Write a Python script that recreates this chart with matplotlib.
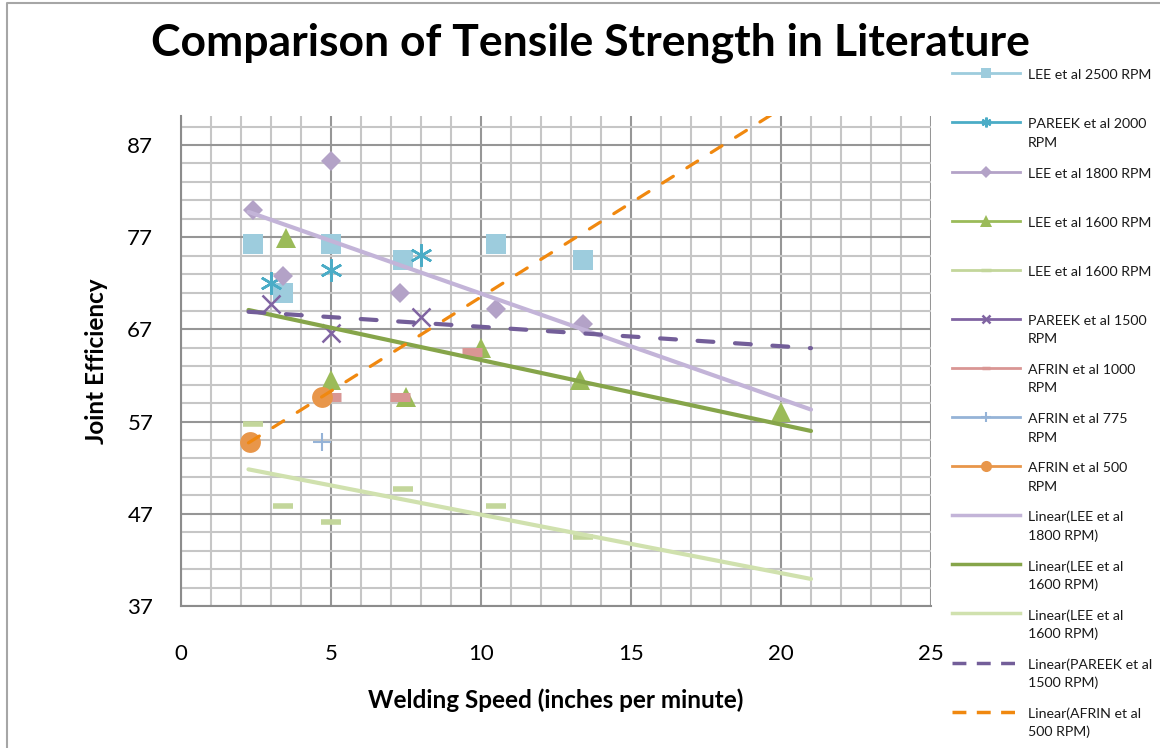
import matplotlib.pyplot as plt
import numpy as np

plt.rcParams['font.family'] = ['Lato', 'DejaVu Sans']

# welding speed (ipm) and joint efficiency
lee2500_x = [2.4, 3.4, 5.0, 7.4, 10.5, 13.4]
lee2500_y = [76.3, 71.0, 76.3, 74.5, 76.3, 74.5]
pareek2000_x = [3.0, 5.0, 8.0]
pareek2000_y = [72.0, 73.4, 75.1]
lee1800_x = [2.4, 3.4, 5.0, 7.3, 10.5, 13.4]
lee1800_y = [80.0, 72.8, 85.3, 71.0, 69.2, 67.6]
lee1600a_x = [3.5, 5.0, 7.5, 10.0, 13.3, 20.0]
lee1600a_y = [76.9, 61.5, 59.7, 65.0, 61.5, 58.0]
lee1600b_x = [2.4, 3.4, 5.0, 7.4, 10.5, 13.4]
lee1600b_y = [56.7, 47.9, 46.1, 49.7, 47.9, 44.5]
pareek1500_x = [3.0, 5.0, 8.0]
pareek1500_y = [69.8, 66.6, 68.4]
afrin1000_x = [5.0, 7.3, 9.7]
afrin1000_y = [59.7, 59.7, 64.6]
afrin775_x = [4.7]
afrin775_y = [54.8]
afrin500_x = [2.3, 4.7]
afrin500_y = [54.8, 59.7]

series_labels = ["LEE et al 2500 RPM", "PAREEK et al 2000\nRPM", "LEE et al 1800 RPM",
                 "LEE et al 1600 RPM", "LEE et al 1600 RPM", "PAREEK et al 1500\nRPM",
                 "AFRIN et al 1000\nRPM", "AFRIN et al 775\nRPM", "AFRIN et al 500\nRPM"]
trend_labels = ["Linear(LEE et al\n1800 RPM)", "Linear(LEE et al\n1600 RPM)",
                "Linear(LEE et al\n1600 RPM)", "Linear(PAREEK et al\n1500 RPM)",
                "Linear(AFRIN et al\n500 RPM)"]

fig = plt.figure(figsize=(11.6, 7.48), dpi=100)
ax = fig.add_axes([181 / 1160, 1 - 606 / 748, 750 / 1160, 490 / 748])
ax.set_xlim(0, 25)
ax.set_ylim(37, 90.15)
ax.set_xticks(np.arange(0, 26, 5))
ax.set_xticks(np.arange(0, 26, 1), minor=True)
ax.set_yticks(np.arange(37, 90, 10))
ax.set_yticks(np.arange(37, 90, 2), minor=True)
ax.grid(which='minor', color='#C6C6C6', lw=1.5)
ax.grid(which='major', color='#969696', lw=1.5)
ax.set_axisbelow(True)
ax.tick_params(which='both', length=0, labelsize=16)
ax.tick_params(axis='y', pad=20)
ax.tick_params(axis='x', pad=27)
for s in ['top', 'right']:
    ax.spines[s].set_visible(False)
for s in ['left', 'bottom']:
    ax.spines[s].set_color('#8C8C8C')
    ax.spines[s].set_linewidth(1.5)

# series: (x, y, marker, size, face colour, edge width)
styles = [
    (lee2500_x, lee2500_y, 's', 14.5, '#9DCCDD', 0),
    (pareek2000_x, pareek2000_y, (6, 2, 0), 16, '#4BACC6', 1.8),
    (lee1800_x, lee1800_y, 'D', 10, '#B3A2C7', 0),
    (lee1600a_x, lee1600a_y, '^', 15, '#9BBB59', 0),
    (lee1600b_x, lee1600b_y, '_', 15, '#C3D69B', 4),
    (pareek1500_x, pareek1500_y, 'x', 13, '#8064A2', 1.8),
    (afrin1000_x, afrin1000_y, '_', 14, '#D99694', 6.5),
    (afrin775_x, afrin775_y, '+', 13, '#95B3D7', 1.5),
    (afrin500_x, afrin500_y, 'o', 15, '#E8964A', 0),
]
for x, y, m, ms, c, mew in styles:
    ax.plot(x, y, ls='none', marker=m, ms=ms, color=c, mec=c, mew=mew, zorder=3)

# linear trendlines (least squares, as in the spreadsheet)
trends = [
    (lee1800_x, lee1800_y, '#C3B4D8', 'solid'),
    (lee1600a_x, lee1600a_y, '#86A54A', 'solid'),
    (lee1600b_x, lee1600b_y, '#D0E1AE', 'solid'),
    (pareek1500_x, pareek1500_y, '#735E99', 'dash'),
    (afrin500_x, afrin500_y, '#F0880F', 'dash2'),
]
xs = np.array([2.25, 21.0])
for x, y, c, ls in trends:
    coef = np.polyfit(x, y, 1)
    if ls == 'solid':
        ax.plot(xs, np.polyval(coef, xs), color=c, lw=3, solid_capstyle='round', zorder=4)
    elif ls == 'dash':
        ax.plot(xs, np.polyval(coef, xs), color=c, lw=3, dashes=(3.8, 5.2),
                dash_capstyle='round', zorder=4)
    else:
        ax.plot(xs, np.polyval(coef, xs), color=c, lw=2.3, dashes=(4.0, 5.0),
                dash_capstyle='round', zorder=4)

# overlay in pixel coordinates for title, labels, legend and border
ov = fig.add_axes([0, 0, 1, 1], zorder=-1)
ov.set_xlim(0, 1160)
ov.set_ylim(748, 0)
ov.axis('off')
ov.plot([7, 7, 1160], [748, 3, 3], color='#A6A6A6', lw=1.5)
ov.text(590, 43, "Comparison of Tensile Strength in Literature", ha='center', va='center',
        fontsize=32, fontweight='bold')
ov.text(556, 700, "Welding Speed (inches per minute)", ha='center', va='center',
        fontsize=17.5, fontweight='bold')
ov.text(97, 361, "Joint Efficiency", ha='center', va='center', rotation=90,
        fontsize=17.5, fontweight='bold')

leg = fig.add_axes([0, 0, 1, 1])
leg.set_xlim(0, 1160)
leg.set_ylim(748, 0)
leg.axis('off')
leg_ms = [7, 7, 6, 8, 7, 6, 6, 7, 8]
for i, ((x, y, m, ms, c, mew), lab) in enumerate(zip(styles, series_labels)):
    ly = 73.3 + 49.1 * i
    leg.plot([952, 1020], [ly, ly], color=c, lw=2)
    leg.plot([986], [ly], marker=m, ms=leg_ms[i], color=c, mec=c,
             mew=min(mew, 2.5) if mew else 0)
    for k, line in enumerate(lab.split('\n')):
        leg.text(1028, ly + 2 + 18.5 * k, line, va='center', fontsize=10.2, color='#1A1A1A')
for j, ((x, y, c, ls), lab) in enumerate(zip(trends, trend_labels)):
    ly = 73.3 + 49.1 * (9 + j)
    if ls == 'solid':
        leg.plot([952, 1020], [ly, ly], color=c, lw=2.5)
    else:
        leg.plot([952, 1020], [ly, ly], color=c, lw=2.5, dashes=(4, 3))
    for k, line in enumerate(lab.split('\n')):
        leg.text(1028, ly + 2 + 18.5 * k, line, va='center', fontsize=10.2, color='#1A1A1A')

fig.savefig('out.png', dpi=100)
